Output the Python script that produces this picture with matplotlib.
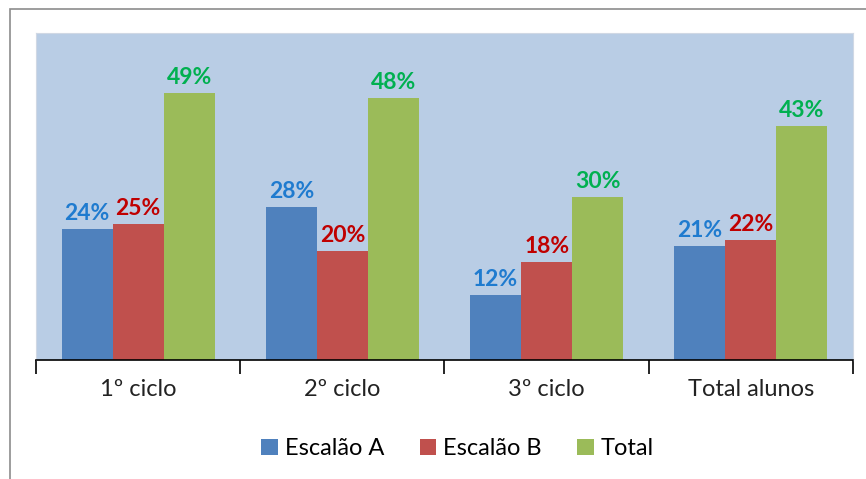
import numpy as np
import matplotlib.pyplot as plt
from matplotlib.patches import Rectangle

# --- data ---
categories = ['1º ciclo', '2º ciclo', '3º ciclo', 'Total alunos']
escalao_a = [24, 28, 12, 21]
escalao_b = [25, 20, 18, 22]
total = [49, 48, 30, 43]

series = [
    ('Escalão A', escalao_a, '#4f81bd', '#1f7bcf'),
    ('Escalão B', escalao_b, '#c0504d', '#c00000'),
    ('Total', total, '#9bbb59', '#00b050'),
]

plt.rcParams['font.family'] = ['Lato', 'DejaVu Sans']

fig = plt.figure(figsize=(8.66, 4.79), dpi=100)
# outer chart frame (left and top edges only)
fig.patches.append(Rectangle((10 / 866, -0.1), 1.2, 1 - 9 / 479 + 0.1,
                             transform=fig.transFigure, fill=False,
                             edgecolor='#8c8c8c', linewidth=1.2))

ax = fig.add_axes([36 / 866, 1 - 360 / 479, 817 / 866, 327 / 479])
ax.set_facecolor('#b9cde5')

x = np.arange(len(categories))
w = 0.25
for i, (name, vals, color, lab_color) in enumerate(series):
    pos = x + (i - 1) * w
    bars = ax.bar(pos, vals, width=w, color=color, label=name)
    for b, v in zip(bars, vals):
        ax.text(b.get_x() + b.get_width() / 2, v + 0.9, f'{v}%',
                ha='center', va='bottom', color=lab_color,
                fontsize=16.5, fontweight='bold')

ax.set_xlim(-0.5, len(categories) - 0.5)
ax.set_ylim(0, 60)
ax.set_yticks([])
for s in ['left', 'right', 'top']:
    ax.spines[s].set_color('#d0d8e4')
    ax.spines[s].set_linewidth(0.8)
ax.spines['bottom'].set_color('black')
ax.spines['bottom'].set_linewidth(1.2)

# boundary ticks between categories, labels centred in each slot
ax.set_xticks(np.arange(-0.5, len(categories), 1.0))
ax.set_xticklabels([])
ax.tick_params(axis='x', length=10, width=1.2, color='black', direction='out')
for xi, c in zip(x, categories):
    ax.text(xi, -3.5, c, ha='center', va='top', fontsize=17, color='#222222')

ax.legend(loc='upper center', bbox_to_anchor=(0.516, -0.175), ncol=3,
          frameon=False, fontsize=17, handlelength=0.7, handleheight=0.7,
          handletextpad=0.3, columnspacing=1.5)

fig.savefig('out.png', dpi=100)
